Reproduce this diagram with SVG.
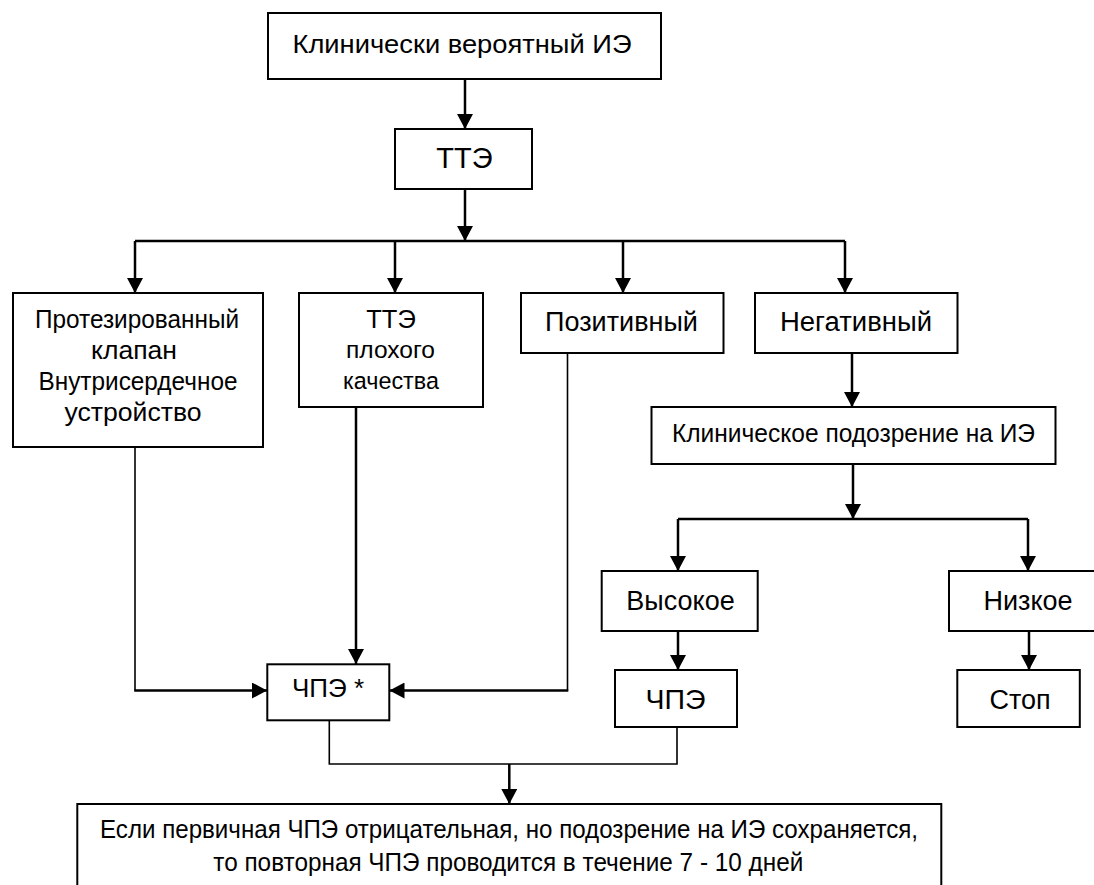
<svg xmlns="http://www.w3.org/2000/svg" width="1094" height="885" viewBox="0 0 1094 885">
<style>
.box{fill:#fff;stroke:#000;stroke-width:2}
.t{font-family:"Liberation Sans",Arial,sans-serif;font-size:27px;fill:#000;text-anchor:middle}
.c{fill:none;stroke:#000;stroke-width:2.5}
.cn{fill:none;stroke:#000;stroke-width:1.6}
.a{marker-end:url(#ah)}
</style>
<defs>
<marker id="ah" markerUnits="userSpaceOnUse" markerWidth="16" markerHeight="16" refX="15" refY="8" orient="auto">
<path d="M0,0 L15,8 L0,16 Z" fill="#000"/>
</marker>
</defs>
<rect width="1094" height="885" fill="#fff"/>
<g id="connectors">
<path class="c a" d="M465,79 V129"/>
<path class="c a" d="M465,189 V241"/>
<path class="c" d="M135,241 H845"/>
<path class="c a" d="M135,241 V293"/>
<path class="c a" d="M395,241 V293"/>
<path class="c a" d="M623,241 V293"/>
<path class="c a" d="M845,241 V293"/>
<path class="c a" d="M852,353 V407"/>
<path class="c a" d="M853,464 V519"/>
<path class="c" d="M678,519 H1028"/>
<path class="c a" d="M678,519 V571"/>
<path class="c a" d="M1028,519 V571"/>
<path class="c a" d="M678,631 V670"/>
<path class="c a" d="M1029,631 V670"/>
<path class="cn" d="M135,447 V690.5"/>
<path class="c a" d="M134.2,690.5 H267"/>
<path class="c a" d="M356,407 V664"/>
<path class="cn" d="M567.5,353 V690.5"/>
<path class="c a" d="M568.3,690.5 H389.5"/>
<path class="cn" d="M329.3,720 V764 H677 V727"/>
<path class="c a" d="M509.3,764 V804"/>
</g>
<g id="n1"><rect class="box" x="268" y="13" width="393" height="66"/><text class="t" x="462" y="53" style="font-size:26px" textLength="339" lengthAdjust="spacingAndGlyphs">Клинически вероятный ИЭ</text></g>
<g id="n2"><rect class="box" x="395" y="129" width="137" height="60"/><text class="t" x="464.5" y="168" style="font-size:29px">ТТЭ</text></g>
<g id="n3"><rect class="box" x="13" y="293" width="250" height="154"/>
<text class="t" x="137" y="327.7" style="font-size:25.5px" textLength="204" lengthAdjust="spacingAndGlyphs">Протезированный</text>
<text class="t" x="134" y="359" style="font-size:25.5px" textLength="86" lengthAdjust="spacingAndGlyphs">клапан</text>
<text class="t" x="138" y="390" style="font-size:25.5px" textLength="199" lengthAdjust="spacingAndGlyphs">Внутрисердечное</text>
<text class="t" x="133" y="421" style="font-size:25.5px" textLength="137" lengthAdjust="spacingAndGlyphs">устройство</text></g>
<g id="n4"><rect class="box" x="299" y="293" width="184" height="114"/>
<text class="t" x="391" y="327.7" style="font-size:25.5px">ТТЭ</text>
<text class="t" x="390.5" y="358" style="font-size:24.5px" textLength="89" lengthAdjust="spacingAndGlyphs">плохого</text>
<text class="t" x="391" y="389" style="font-size:24.5px" textLength="96" lengthAdjust="spacingAndGlyphs">качества</text></g>
<g id="n5"><rect class="box" x="521" y="293" width="202.5" height="60"/><text class="t" x="621.5" y="331">Позитивный</text></g>
<g id="n6"><rect class="box" x="755" y="293" width="202.5" height="60"/><text class="t" x="856" y="331" textLength="152" lengthAdjust="spacingAndGlyphs">Негативный</text></g>
<g id="n7"><rect class="box" x="651.5" y="407" width="404" height="57"/><text class="t" x="853.5" y="442" style="font-size:25.5px" textLength="363" lengthAdjust="spacingAndGlyphs">Клиническое подозрение на ИЭ</text></g>
<g id="n8"><rect class="box" x="601.7" y="571" width="156" height="60"/><text class="t" x="680.5" y="609.5">Высокое</text></g>
<g id="n9"><rect class="box" x="949" y="571" width="160" height="60"/><text class="t" x="1028" y="610">Низкое</text></g>
<g id="n10"><rect class="box" x="267.3" y="664.3" width="122" height="56"/><text class="t" x="328" y="697.3" style="font-size:26px">ЧПЭ *</text></g>
<g id="n11"><rect class="box" x="615" y="670" width="122" height="57"/><text class="t" x="675.5" y="709" style="font-size:28.5px">ЧПЭ</text></g>
<g id="n12"><rect class="box" x="957.3" y="670" width="122.5" height="57"/><text class="t" x="1020" y="709">Стоп</text></g>
<g id="n13"><rect class="box" x="77.3" y="804" width="864" height="120"/>
<text class="t" x="509" y="838" style="font-size:25px" textLength="818" lengthAdjust="spacingAndGlyphs">Если первичная ЧПЭ отрицательная, но подозрение на ИЭ сохраняется,</text>
<text class="t" x="508.3" y="870.5" style="font-size:25px" textLength="590" lengthAdjust="spacingAndGlyphs">то повторная ЧПЭ проводится в течение 7 - 10 дней</text></g>
</svg>
